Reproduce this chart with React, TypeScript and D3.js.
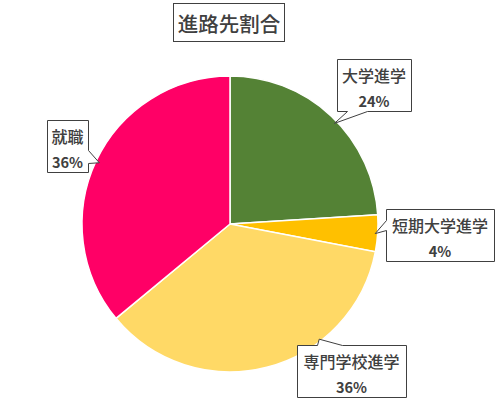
import { useEffect, useRef } from 'react';
import * as d3 from 'd3';

const categories = ['大学進学', '短期大学進学', '専門学校進学', '就職'];
const shares = [24, 4, 36, 36];
const sliceColors = ['#548235', '#FFC000', '#FFD966', '#FF0066'];
const titleText = '進路先割合';

// callout layout: box (x, y, w, h), side the pointer leaves from, pointer base, where the tip sits in the slice (0..1)
const callouts = [
  { x: 337, y: 59, w: 74, h: 52, side: 'bottom', b0: 347, b1: 367, at: 0.53 },
  { x: 386, y: 209, w: 108, h: 52, side: 'left', b0: 220, b1: 230, at: 0.5 },
  { x: 297, y: 345, w: 109, h: 52, side: 'top', b0: 317, b1: 342, at: 0.32 },
  { x: 47, y: 120, w: 41, h: 52, side: 'right', b0: 150, b1: 163, at: 0.5 },
];

const FONT = "'Noto Sans CJK JP', 'Noto Sans', sans-serif";

function calloutPath(c: typeof callouts[number], tx: number, ty: number) {
  const x0 = c.x, y0 = c.y, x1 = c.x + c.w, y1 = c.y + c.h;
  const p = d3.path();
  p.moveTo(x0, y0);
  if (c.side === 'top') { p.lineTo(c.b0, y0); p.lineTo(tx, ty); p.lineTo(c.b1, y0); }
  p.lineTo(x1, y0);
  if (c.side === 'right') { p.lineTo(x1, c.b0); p.lineTo(tx, ty); p.lineTo(x1, c.b1); }
  p.lineTo(x1, y1);
  if (c.side === 'bottom') { p.lineTo(c.b1, y1); p.lineTo(tx, ty); p.lineTo(c.b0, y1); }
  p.lineTo(x0, y1);
  if (c.side === 'left') { p.lineTo(x0, c.b1); p.lineTo(tx, ty); p.lineTo(x0, c.b0); }
  p.closePath();
  return p.toString();
}

export default function App() {
  const svgRef = useRef<SVGSVGElement>(null);

  useEffect(() => {
    if (!svgRef.current) return;
    const svg = d3.select(svgRef.current);
    svg.selectAll('*').remove();

    const cx = 230, cy = 224, radius = 148;

    svg.append('rect').attr('width', 500).attr('height', 400).attr('fill', '#fff');

    // title
    const title = svg.append('g');
    title.append('rect')
      .attr('x', 173.5).attr('y', 3.5).attr('width', 111).attr('height', 38)
      .attr('fill', '#fff').attr('stroke', '#404040').attr('stroke-width', 1);
    title.append('text')
      .attr('x', 229).attr('y', 23)
      .attr('text-anchor', 'middle').attr('dominant-baseline', 'central')
      .attr('font-family', FONT).attr('font-size', 20.5).attr('font-weight', 500).attr('fill', '#404040')
      .text(titleText);

    const pie = d3.pie<number>().sort(null).value(d => d);
    const arcs = pie(shares);
    const arc = d3.arc<d3.PieArcDatum<number>>().innerRadius(0).outerRadius(radius);

    const g = svg.append('g').attr('transform', `translate(${cx},${cy})`);
    g.selectAll('path')
      .data(arcs)
      .join('path')
      .attr('d', arc)
      .attr('fill', (_, i) => sliceColors[i])
      .attr('stroke', '#fff')
      .attr('stroke-width', 1.5);

    // callouts
    arcs.forEach((a, i) => {
      const c = callouts[i];
      const ang = a.startAngle + (a.endAngle - a.startAngle) * c.at;
      const tx = cx + (radius - 3) * Math.sin(ang);
      const ty = cy - (radius - 3) * Math.cos(ang);
      const lab = svg.append('g');
      lab.append('path')
        .attr('d', calloutPath(c, tx, ty))
        .attr('fill', '#fff')
        .attr('stroke', '#404040')
        .attr('stroke-width', 1)
        .attr('transform', 'translate(0.5,0.5)');
      lab.append('text')
        .attr('x', c.x + c.w / 2).attr('y', c.y + 16)
        .attr('text-anchor', 'middle').attr('dominant-baseline', 'central')
        .attr('font-family', FONT).attr('font-size', 16).attr('font-weight', 500).attr('fill', '#404040')
        .text(categories[i]);
      lab.append('text')
        .attr('x', c.x + c.w / 2).attr('y', c.y + 41)
        .attr('text-anchor', 'middle').attr('dominant-baseline', 'central')
        .attr('font-family', FONT).attr('font-size', 14.5).attr('font-weight', 'bold').attr('fill', '#404040')
        .text(`${shares[i]}%`);
    });
  }, []);

  return (
    <svg
      ref={svgRef}
      width={500}
      height={400}
      style={{ position: 'absolute', left: 0, top: 0, display: 'block' }}
    />
  );
}
